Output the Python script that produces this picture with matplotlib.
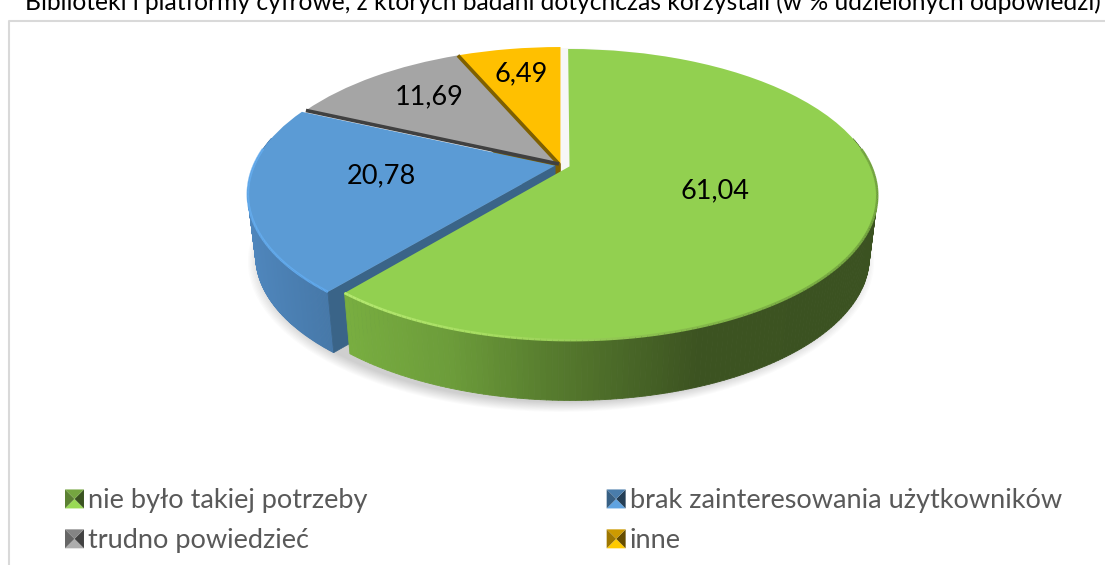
#!/usr/bin/env python3
"""."""

import numpy as np
import matplotlib
matplotlib.use('Agg')
import matplotlib.pyplot as plt
from matplotlib.collections import LineCollection, PolyCollection
from matplotlib.colors import to_rgb
from matplotlib.legend_handler import HandlerBase
from matplotlib.patches import Circle, Patch, Polygon
from matplotlib.transforms import Transform

TITLE = ('Biblioteki i platformy cyfrowe, z których badani dotychczas '
         'korzystali (w % udzielonych odpowiedzi)')
CATEGORIES = [
    'nie było takiej potrzeby', 'brak zainteresowania użytkowników',
    'trudno powiedzieć', 'inne']
VALUES = [61.04, 20.78, 11.69, 6.49]
COLORS = ['#92d050', '#5b9bd5', '#a5a5a5', '#ffc000']
EXPLODE = [0.03, 0.02, 0.01, 0.01]
LABEL_XY = [(715, 191), (381, 176), (429, 97), (521, 74)]

# pie geometry, in pixels
X0, Y0, AX, BY, KP = 561, 165, 301, 139.6, 0.193
DEPTH = 62

plt.rcParams['font.family'] = ['Lato', 'DejaVu Sans']


class Persp(Transform):
    """Maps the unit disk of the pie to the tilted disk on the page."""

    input_dims = output_dims = 2

    def __init__(self, dx=0, dy=0, sx=1, sy=1):
        """."""
        super().__init__()
        self.par = (X0 + dx, Y0 + dy, AX*sx, BY*sy)

    def transform_non_affine(self, values):
        """."""
        x0_, y0_, ax_, by_ = self.par
        values = np.asarray(values, dtype=float)
        wgt = 1 + KP*values[:, 1]
        return np.column_stack(
            (x0_ + ax_*values[:, 0]/wgt, y0_ - by_*values[:, 1]/wgt))


class PyramidHandler(HandlerBase):
    """Legend key with the bevelled look of the original."""

    def create_artists(
            self, legend, orig_handle, xdescent, ydescent, width, height,
            fontsize, trans):
        """."""
        side = height*1.05
        base = np.array(to_rgb(orig_handle.get_facecolor()))
        xa_, ya_ = -xdescent, -ydescent - 0.05*height
        cnt = (xa_ + side/2, ya_ + side/2)
        crn = [
            (xa_, ya_), (xa_ + side, ya_),
            (xa_ + side, ya_ + side), (xa_, ya_ + side)]
        arts = []
        for i, fac in enumerate((1.05, 0.4, 0.8, 0.62)):
            tri = Polygon(
                [crn[i], crn[(i + 1) % 4], cnt], closed=True,
                fc=np.clip(base*fac, 0, 1), ec='none', transform=trans)
            arts.append(tri)
        return arts


def rim_points(wedge, npts=240):
    """."""
    ang = np.radians(np.linspace(wedge.theta1, wedge.theta2, npts))
    cen = np.array(wedge.center)
    return cen + wedge.r*np.column_stack((np.cos(ang), np.sin(ang)))


def side_strips(ax, wedge, stops, colors, top, bot, zorder):
    """."""
    pts = rim_points(wedge)
    # the back of the rim is never seen
    pts = pts[pts[:, 1] < 0.2]
    ptop, pbot = top.transform(pts), bot.transform(pts)
    rgb = np.array([to_rgb(c) for c in colors])
    polys, fcs = [], []
    for i in range(len(pts) - 1):
        polys.append([ptop[i], ptop[i+1], pbot[i+1], pbot[i]])
        xmid = (ptop[i, 0] + ptop[i+1, 0])/2
        fcs.append([np.interp(xmid, stops, rgb[:, j]) for j in range(3)])
    ax.add_collection(PolyCollection(
        polys, facecolors=fcs, edgecolors=fcs, linewidths=0.6, zorder=zorder))


def rim_light(ax, wedge, stops, colors, top, zorder):
    """."""
    pts = rim_points(wedge)
    pts = pts[pts[:, 1] < 0.12]
    ptop = top.transform(pts)
    rgba = np.array([matplotlib.colors.to_rgba(c) for c in colors])
    segs = np.stack((ptop[:-1], ptop[1:]), axis=1)
    xmid = segs[:, :, 0].mean(axis=1)
    cols = np.column_stack(
        [np.interp(xmid, stops, rgba[:, j]) for j in range(4)])
    ax.add_collection(
        LineCollection(segs, colors=cols, linewidths=1.8, zorder=zorder))


def wall(ax, wedge, angle, color, top, bot, zorder):
    """."""
    ang = np.radians(angle)
    cen = np.array(wedge.center)
    pts = np.array([cen, cen + wedge.r*np.array([np.cos(ang), np.sin(ang)])])
    ptop, pbot = top.transform(pts), bot.transform(pts)
    ax.add_patch(Polygon(
        [ptop[0], ptop[1], pbot[1], pbot[0]], closed=True, fc=color,
        ec=color, lw=0.5, zorder=zorder))


def boundary(ax, wedge, angle, color, top, zorder):
    """."""
    ang = np.radians(angle)
    cen = np.array(wedge.center)
    pts = np.array([cen, cen + wedge.r*np.array([np.cos(ang), np.sin(ang)])])
    ptop = top.transform(pts)
    ax.plot(
        ptop[:, 0], ptop[:, 1], color=color, lw=2.6,
        solid_capstyle='butt', zorder=zorder)


fig = plt.figure(figsize=(11.05, 5.65), dpi=100)
ax = fig.add_axes([0, 0, 1, 1])

wedges, _ = ax.pie(
    VALUES, colors=COLORS, explode=EXPLODE, startangle=90, counterclock=False,
    frame=True)
ax.set_aspect('auto')
ax.set_xlim(0, 1105)
ax.set_ylim(565, 0)
ax.axis('off')

top_map = Persp()
bot_map = Persp(dx=0, dy=DEPTH, sx=0.975, sy=0.99)

# chart frame
ax.plot([9, 9, 1105], [565, 21, 21], color='#d9d9d9', lw=1.5, zorder=1)

# soft shadow under the pie
for scl in np.linspace(1.0, 1.045, 12):
    ax.add_patch(Circle(
        (0, 0), scl, transform=Persp(dy=DEPTH + 4, sx=0.975, sy=0.99)
        + ax.transData, fc='k', ec='none', alpha=0.016, zorder=2))
# the shadow only shows outside of the pie, the gap at the top stays light
ax.add_patch(Circle(
    (0, 0), 1.0, transform=top_map + ax.transData, fc='#f7f7f7', ec='none',
    zorder=2.5))

green, blue, gray, yellow = wedges

# back slices first, so that the front ones cover them
wall(ax, yellow, yellow.theta2, '#7f6000', top_map, bot_map, 3)
yellow.set_transform(top_map + ax.transData)
yellow.set_zorder(4)

gray.set_transform(top_map + ax.transData)
gray.set_zorder(5)
boundary(ax, gray, gray.theta1, '#7f6000', top_map, 6)

side_strips(
    ax, blue, [250, 330], ['#4f86bc', '#4678a8'], top_map, bot_map, 7)
wall(ax, blue, blue.theta2, '#3a6488', top_map, bot_map, 8)
blue.set_transform(top_map + ax.transData)
blue.set_zorder(9)
boundary(ax, gray, gray.theta2, '#404040', top_map, 10)
rim_light(
    ax, blue, [250, 340], ['#66aef0', '#5fa8ec'], top_map, 11)

side_strips(
    ax, green, [350, 450, 550, 700, 877],
    ['#78ad40', '#6c9c3a', '#577c2e', '#3c5321', '#3b5221'],
    top_map, bot_map, 12)
green.set_transform(top_map + ax.transData)
green.set_zorder(13)
rim_light(
    ax, green, [350, 500, 700, 877],
    ['#b4e870', '#a5dc60', '#84b84a', '#74a540'], top_map, 14)

# data labels
for val, (xpos, ypos) in zip(VALUES, LABEL_XY):
    ax.text(
        xpos, ypos, '{:.2f}'.format(val).replace('.', ','), fontsize=19.5,
        color='k', ha='center', va='center', zorder=20)

ax.text(
    563, 2.5, TITLE, fontsize=17.7, color='k', ha='center', va='center',
    zorder=20)

# matplotlib fills legend columns first, the original goes row by row
order = [0, 2, 1, 3]
handles = [Patch(facecolor=COLORS[i]) for i in order]
labels = [CATEGORIES[i] for i in order]
leg = ax.legend(
    handles, labels, ncol=2, loc='upper left', bbox_to_anchor=(65, 488),
    bbox_transform=ax.transData, frameon=False, fontsize=19.5,
    labelcolor='#595959', borderpad=0, borderaxespad=0, handlelength=0.65,
    handleheight=0.65, handletextpad=0.2, columnspacing=8.83,
    labelspacing=0.55, handler_map={Patch: PyramidHandler()})
leg.set_zorder(20)

fig.savefig('out.png', dpi=100)
